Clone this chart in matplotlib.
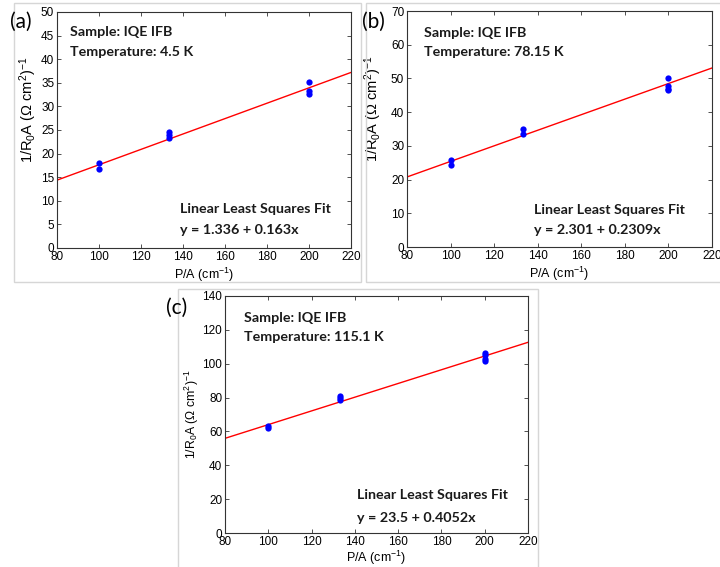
import matplotlib
matplotlib.use('Agg')
import matplotlib.pyplot as plt
from matplotlib.patches import Rectangle
import numpy as np

plt.rcParams['font.family'] = ['Liberation Sans', 'DejaVu Sans']
plt.rcParams['mathtext.fontset'] = 'custom'
plt.rcParams['mathtext.rm'] = 'Liberation Sans'
plt.rcParams['mathtext.it'] = 'Liberation Sans'

# perimeter/area of the diode mesas (cm^-1)
pa_a = [100, 100, 133.3, 133.3, 133.3, 200, 200, 200]
pa_b = [100, 100, 133.3, 133.3, 200, 200, 200, 200]
pa_c = [100, 100, 133.3, 133.3, 133.3, 200, 200, 200, 200]

# 1/R0A measured at each temperature
inv_r0a_a = [18.1, 16.7, 24.6, 23.9, 23.2, 35.1, 33.3, 32.7]
inv_r0a_b = [25.9, 24.4, 35.0, 33.4, 50.0, 47.8, 46.8, 46.5]
inv_r0a_c = [63.2, 62.0, 80.7, 79.5, 78.6, 106.2, 105.0, 102.5, 101.8]

# least squares fit: intercept, slope
fit_a = (1.336, 0.163)
fit_b = (2.301, 0.2309)
fit_c = (23.5, 0.4052)

temps = ['4.5 K', '78.15 K', '115.1 K']
fit_labels = ['y = 1.336 + 0.163x', 'y = 2.301 + 0.2309x', 'y = 23.5 + 0.4052x']
ymax = [50, 70, 140]
ystep = [5, 10, 20]
panel_tags = ['(a)', '(b)', '(c)']

W, H = 720., 567.


def px_rect(x0, y0, x1, y1):
    """ pixel box (top-left origin) -> figure fraction [l, b, w, h] """
    return [x0 / W, 1 - y1 / H, (x1 - x0) / W, (y1 - y0) / H]


fig = plt.figure(figsize=(7.2, 5.67), dpi=100)

# light frames round each panel
for x0, y0, x1, y1 in [(14, 3, 361, 282), (366, 3, 725, 282), (178, 289, 538, 575)]:
    fig.patches.append(Rectangle((x0 / W, 1 - y1 / H), (x1 - x0) / W, (y1 - y0) / H,
                                 transform=fig.transFigure, fill=False,
                                 edgecolor='#d6d6d6', linewidth=1.0))

axes_px = [(57, 12, 351, 248), (407, 11, 712, 247), (225, 296, 528, 533)]
text_pos = [((0.044, 0.915, 0.83), (0.418, 0.165, 0.076)),
            ((0.055, 0.908, 0.827), (0.415, 0.158, 0.07)),
            ((0.063, 0.909, 0.827), (0.434, 0.161, 0.063))]
tag_px = [(21, 22), (373, 22), (177, 308)]
# ylabel size / placement per panel
ylab_size = [10.5, 10.5, 8.8]
ylab_pos = [(-0.061, 0.585), (-0.075, 0.585), (-0.08, 0.5)]
xlab_pad = [2, 2, 1]

data = [(pa_a, inv_r0a_a, fit_a), (pa_b, inv_r0a_b, fit_b), (pa_c, inv_r0a_c, fit_c)]

for i, (x, y, fit) in enumerate(data):
    ax = fig.add_axes(px_rect(*axes_px[i]))
    xl = np.array([80, 220])
    ax.plot(xl, fit[0] + fit[1] * xl, color='red', linewidth=1.0)
    ax.plot(x, y, 'o', color='blue', markersize=4.5, markeredgewidth=0)
    ax.set_xlim(80, 220)
    ax.set_ylim(0, ymax[i])
    ax.set_xticks(np.arange(80, 221, 20))
    ax.set_yticks(np.arange(0, ymax[i] + 1, ystep[i]))
    ax.tick_params(direction='in', top=True, right=True, labelsize=8.5, length=3,
                   width=0.6, colors='#333333', labelcolor='black', pad=2)
    for s in ax.spines.values():
        s.set_color('#333333')
        s.set_linewidth(0.8)
    ax.set_xlabel(r'P/A (cm$^{-1}$)', fontsize=9, labelpad=xlab_pad[i])
    ax.set_ylabel(r'1/R$_0$A ($\Omega$ cm$^2$)$^{-1}$', fontsize=ylab_size[i])
    ax.yaxis.set_label_coords(*ylab_pos[i])

    (sx, sy1, sy2), (lx, ly1, ly2) = text_pos[i]
    kw = dict(transform=ax.transAxes, family=['Lato', 'DejaVu Sans'], fontweight='bold',
              fontsize=10.3, va='center', ha='left', color='#1a1a1a')
    ax.text(sx, sy1, 'Sample: IQE IFB', **kw)
    ax.text(sx, sy2, 'Temperature: ' + temps[i], **kw)
    ax.text(lx, ly1, 'Linear Least Squares Fit', **kw)
    ax.text(lx, ly2, fit_labels[i], **kw)

    tx, ty = tag_px[i]
    fig.text(tx / W, 1 - ty / H, panel_tags[i], family=['Lato', 'DejaVu Sans'],
             fontsize=15, ha='center', va='center')

fig.savefig('out.png', dpi=100)
